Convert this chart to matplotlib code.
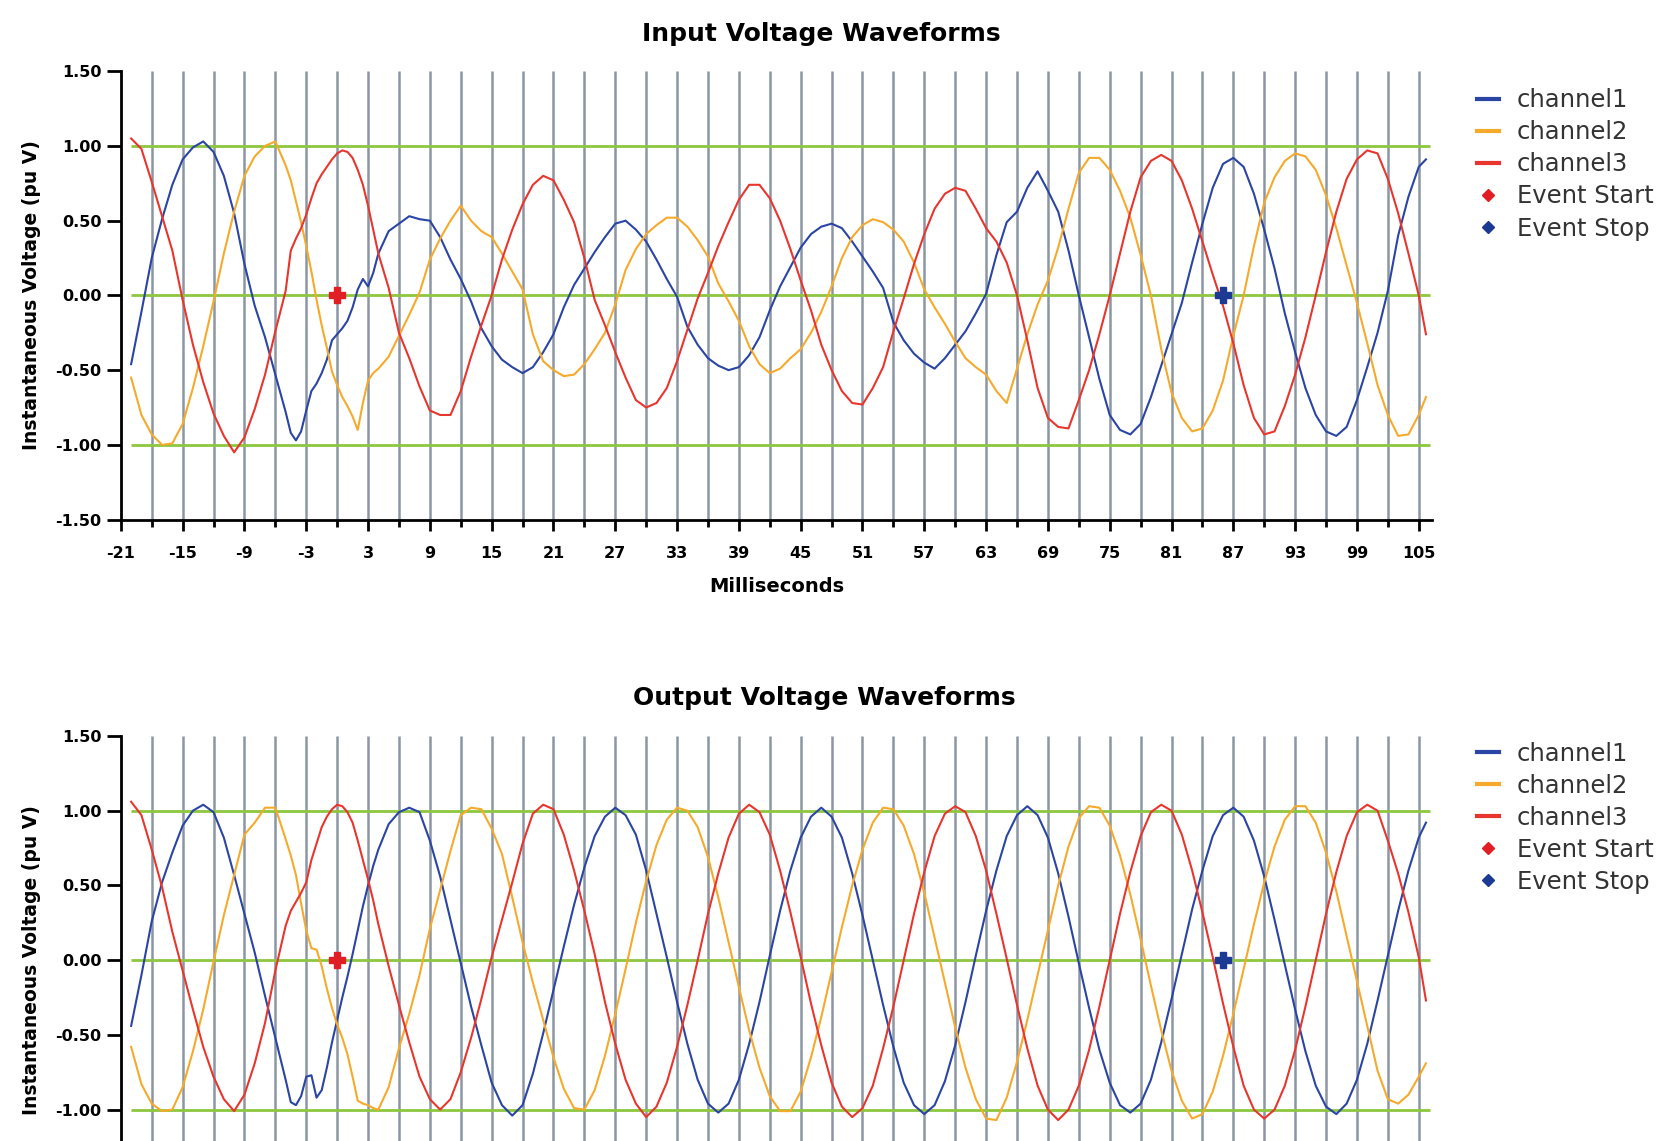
import matplotlib.pyplot as plt
import numpy as np
from matplotlib.lines import Line2D

plt.rcParams['font.family'] = 'DejaVu Sans'
plt.rcParams['axes.unicode_minus'] = False

# sample times in ms (finer steps around the event start)
t = np.concatenate([np.arange(-20, -5), np.arange(-5, 4.5, 0.5), np.arange(5, 106), [105.7]])

# input voltage, pu V
in_ch1 = [
    -0.46, -0.11, 0.25, 0.51, 0.74, 0.91, 0.99, 1.03, 0.96, 0.80, 0.55, 0.21, -0.07, -0.28, -0.53,
    -0.78, -0.92, -0.97, -0.91, -0.77, -0.64, -0.59, -0.52, -0.43, -0.30, -0.26, -0.22, -0.17, -0.08, 0.04, 0.11, 0.06, 0.15, 0.28,
    0.43, 0.48, 0.53, 0.51, 0.50, 0.39, 0.24, 0.11, -0.04, -0.22,
    -0.34, -0.43, -0.48, -0.52, -0.48, -0.38, -0.26, -0.08, 0.07, 0.18,
    0.29, 0.39, 0.48, 0.50, 0.44, 0.36, 0.24, 0.11, -0.01, -0.21,
    -0.33, -0.42, -0.47, -0.50, -0.48, -0.40, -0.28, -0.10, 0.06, 0.19,
    0.32, 0.41, 0.46, 0.48, 0.45, 0.36, 0.26, 0.16, 0.05, -0.18,
    -0.30, -0.39, -0.45, -0.49, -0.42, -0.33, -0.24, -0.12, 0.01, 0.27,
    0.49, 0.56, 0.72, 0.83, 0.70, 0.56, 0.30, 0.00, -0.28, -0.56,
    -0.80, -0.90, -0.93, -0.86, -0.68, -0.47, -0.26, -0.05, 0.22, 0.48,
    0.72, 0.88, 0.92, 0.86, 0.68, 0.44, 0.18, -0.12, -0.38, -0.62,
    -0.80, -0.91, -0.94, -0.88, -0.70, -0.48, -0.25, 0.03, 0.40, 0.66,
    0.86, 0.91,
]
in_ch2 = [
    -0.55, -0.80, -0.93, -1.00, -0.99, -0.86, -0.62, -0.34, -0.04, 0.28, 0.56, 0.80, 0.93, 1.00, 1.03,
    0.87, 0.77, 0.63, 0.49, 0.33, 0.16, -0.03, -0.20, -0.35, -0.51, -0.60, -0.68, -0.74, -0.81, -0.90, -0.72, -0.57, -0.52, -0.49,
    -0.41, -0.27, -0.13, 0.02, 0.24, 0.38, 0.50, 0.60, 0.50, 0.43,
    0.39, 0.28, 0.16, 0.04, -0.26, -0.44, -0.50, -0.54, -0.53, -0.46,
    -0.36, -0.25, -0.06, 0.17, 0.31, 0.41, 0.47, 0.52, 0.52, 0.46,
    0.37, 0.26, 0.08, -0.04, -0.17, -0.34, -0.46, -0.52, -0.49, -0.42,
    -0.36, -0.25, -0.11, 0.06, 0.25, 0.39, 0.47, 0.51, 0.49, 0.44,
    0.36, 0.22, 0.04, -0.08, -0.19, -0.31, -0.42, -0.48, -0.53, -0.64,
    -0.72, -0.49, -0.26, -0.06, 0.10, 0.32, 0.58, 0.82, 0.92, 0.92,
    0.84, 0.70, 0.52, 0.27, 0.00, -0.36, -0.65, -0.82, -0.91, -0.89,
    -0.77, -0.57, -0.27, 0.00, 0.33, 0.62, 0.79, 0.90, 0.95, 0.93,
    0.84, 0.67, 0.45, 0.20, -0.05, -0.32, -0.60, -0.80, -0.94, -0.93,
    -0.80, -0.68,
]
in_ch3 = [
    1.05, 0.98, 0.76, 0.53, 0.30, -0.03, -0.33, -0.58, -0.79, -0.94, -1.05, -0.95, -0.76, -0.53, -0.24,
    0.03, 0.30, 0.38, 0.45, 0.54, 0.65, 0.75, 0.81, 0.86, 0.91, 0.95, 0.97, 0.96, 0.92, 0.84, 0.74, 0.60, 0.44, 0.28,
    0.05, -0.25, -0.42, -0.61, -0.77, -0.80, -0.80, -0.64, -0.41, -0.20,
    0.00, 0.24, 0.44, 0.61, 0.74, 0.80, 0.77, 0.64, 0.49, 0.25,
    -0.03, -0.20, -0.38, -0.55, -0.70, -0.75, -0.72, -0.62, -0.44, -0.23,
    -0.02, 0.15, 0.33, 0.49, 0.64, 0.74, 0.74, 0.65, 0.50, 0.31,
    0.10, -0.10, -0.33, -0.50, -0.64, -0.72, -0.73, -0.62, -0.48, -0.24,
    -0.02, 0.21, 0.41, 0.58, 0.68, 0.72, 0.70, 0.58, 0.45, 0.36,
    0.22, 0.00, -0.30, -0.62, -0.82, -0.88, -0.89, -0.70, -0.50, -0.26,
    0.00, 0.28, 0.56, 0.79, 0.90, 0.94, 0.90, 0.77, 0.58, 0.36,
    0.14, -0.07, -0.32, -0.60, -0.82, -0.93, -0.91, -0.74, -0.53, -0.28,
    0.00, 0.29, 0.56, 0.78, 0.91, 0.97, 0.95, 0.78, 0.55, 0.28,
    0.00, -0.26,
]

# output voltage, pu V
out_ch1 = [
    -0.44, -0.10, 0.26, 0.52, 0.72, 0.90, 1.00, 1.04, 0.99, 0.82, 0.57, 0.31, 0.05, -0.24, -0.52,
    -0.80, -0.95, -0.97, -0.91, -0.78, -0.77, -0.92, -0.87, -0.72, -0.55, -0.40, -0.25, -0.11, 0.04, 0.20, 0.36, 0.50, 0.63, 0.74,
    0.91, 0.99, 1.02, 0.99, 0.80, 0.56, 0.27, -0.02, -0.31, -0.57,
    -0.82, -0.97, -1.04, -0.97, -0.76, -0.49, -0.20, 0.09, 0.37, 0.62,
    0.83, 0.96, 1.02, 0.97, 0.84, 0.60, 0.31, 0.02, -0.28, -0.56,
    -0.80, -0.96, -1.02, -0.96, -0.80, -0.56, -0.28, 0.03, 0.33, 0.60,
    0.82, 0.96, 1.02, 0.96, 0.82, 0.58, 0.30, 0.00, -0.30, -0.58,
    -0.82, -0.97, -1.03, -0.97, -0.81, -0.57, -0.28, 0.03, 0.33, 0.60,
    0.83, 0.97, 1.03, 0.97, 0.82, 0.58, 0.29, -0.02, -0.32, -0.60,
    -0.82, -0.97, -1.02, -0.96, -0.80, -0.55, -0.26, 0.04, 0.34, 0.60,
    0.83, 0.97, 1.02, 0.96, 0.80, 0.56, 0.27, -0.03, -0.33, -0.61,
    -0.84, -0.98, -1.03, -0.96, -0.80, -0.56, -0.27, 0.03, 0.33, 0.60,
    0.82, 0.92,
]
out_ch2 = [
    -0.58, -0.83, -0.96, -1.01, -1.00, -0.85, -0.61, -0.33, -0.01, 0.30, 0.57, 0.84, 0.92, 1.02, 1.02,
    0.81, 0.70, 0.57, 0.38, 0.20, 0.08, 0.07, -0.04, -0.19, -0.32, -0.43, -0.52, -0.63, -0.78, -0.94, -0.96, -0.97, -0.99, -1.00,
    -0.85, -0.59, -0.36, -0.10, 0.21, 0.47, 0.73, 0.97, 1.02, 1.01,
    0.88, 0.71, 0.42, 0.12, -0.15, -0.40, -0.65, -0.86, -0.99, -1.00,
    -0.87, -0.64, -0.36, -0.06, 0.25, 0.53, 0.77, 0.94, 1.02, 1.00,
    0.89, 0.69, 0.42, 0.12, -0.18, -0.47, -0.72, -0.91, -1.01, -1.01,
    -0.88, -0.65, -0.38, -0.08, 0.22, 0.50, 0.74, 0.92, 1.02, 1.01,
    0.90, 0.71, 0.45, 0.15, -0.15, -0.45, -0.72, -0.93, -1.06, -1.07,
    -0.92, -0.68, -0.40, -0.10, 0.20, 0.50, 0.76, 0.95, 1.03, 1.02,
    0.90, 0.70, 0.44, 0.14, -0.17, -0.47, -0.74, -0.94, -1.06, -1.03,
    -0.88, -0.64, -0.36, -0.06, 0.24, 0.52, 0.76, 0.94, 1.03, 1.03,
    0.92, 0.72, 0.46, 0.16, -0.14, -0.44, -0.74, -0.93, -0.96, -0.90,
    -0.78, -0.69,
]
out_ch3 = [
    1.06, 0.97, 0.74, 0.49, 0.19, -0.07, -0.33, -0.58, -0.78, -0.93, -1.01, -0.90, -0.69, -0.42, -0.07,
    0.23, 0.33, 0.39, 0.45, 0.52, 0.67, 0.78, 0.89, 0.96, 1.01, 1.04, 1.03, 0.99, 0.92, 0.80, 0.67, 0.54, 0.40, 0.24,
    -0.04, -0.30, -0.55, -0.78, -0.93, -1.00, -0.93, -0.75, -0.52, -0.26,
    0.02, 0.27, 0.52, 0.78, 0.98, 1.04, 1.01, 0.84, 0.60, 0.33,
    0.04, -0.28, -0.56, -0.80, -0.96, -1.05, -0.98, -0.82, -0.58, -0.30,
    0.00, 0.31, 0.58, 0.82, 0.98, 1.04, 0.99, 0.84, 0.60, 0.32,
    0.02, -0.29, -0.57, -0.82, -0.98, -1.05, -0.99, -0.84, -0.59, -0.31,
    0.00, 0.31, 0.59, 0.83, 0.98, 1.03, 0.99, 0.83, 0.60, 0.31,
    0.01, -0.30, -0.59, -0.84, -1.00, -1.07, -1.00, -0.84, -0.60, -0.31,
    0.00, 0.31, 0.59, 0.83, 0.99, 1.04, 1.00, 0.84, 0.60, 0.32,
    0.02, -0.29, -0.58, -0.84, -1.00, -1.06, -1.00, -0.84, -0.60, -0.31,
    0.00, 0.31, 0.59, 0.83, 0.99, 1.04, 1.00, 0.80, 0.58, 0.32,
    0.02, -0.27,
]

event_start = 0.0
event_stop = 86.0

labels = ["channel1", "channel2", "channel3", "Event Start", "Event Stop"]
colors = ["#2a45a3", "#f5aa2c", "#e8362e"]
start_color = "#e01e24"
stop_color = "#1c3a94"
green = "#8dc63f"
gray = "#8c96a3"

xmax = 106.3
grid_x = np.arange(-18, 106, 3)

fig = plt.figure(figsize=(16.62, 11.41), dpi=100)
ax1 = fig.add_axes([0.0727, 0.5446, 0.789, 0.393])
ax2 = fig.add_axes([0.0727, -0.038, 0.789, 0.393])


def draw_panel(ax, ch1, ch2, ch3, show_x):
    ax.vlines(grid_x, -1.5, 1.5, colors=gray, lw=1.8, zorder=1)
    ax.hlines([-1, 0, 1], t[0], xmax - 0.2, colors=green, lw=2.0, zorder=2)
    for vals, c in zip([ch1, ch2, ch3], colors):
        ax.plot(t, vals, color=c, lw=1.5, zorder=3)
    ax.plot([event_start], [0], marker='P', ms=12, color=start_color, ls='none', zorder=5)
    ax.plot([event_stop], [0], marker='P', ms=12, color=stop_color, ls='none', zorder=5)

    ax.set_xlim(-21, xmax)
    ax.set_ylim(-1.5, 1.5)
    ax.spines['top'].set_visible(False)
    ax.spines['right'].set_visible(False)
    ax.spines['left'].set_linewidth(2)
    ax.spines['bottom'].set_linewidth(2)

    ax.set_xticks(np.arange(-21, 106, 6))
    ax.set_xticks(np.arange(-18, 106, 6), minor=True)
    # the lower chart runs past the bottom edge, so its -1.50 label is not drawn
    yt = np.arange(-1.5, 1.51, 0.5) if show_x else np.arange(-1.0, 1.51, 0.5)
    ax.set_yticks(yt)
    ax.set_yticklabels([f"{v:.2f}" for v in yt])
    ax.tick_params(axis='both', which='major', direction='out', width=2, labelsize=11.5)
    ax.tick_params(axis='y', which='major', length=10, pad=4)
    ax.tick_params(axis='x', which='major', length=8, pad=11, labelbottom=show_x)
    ax.tick_params(axis='x', which='minor', direction='out', length=5, width=2)
    for lab in ax.get_xticklabels() + ax.get_yticklabels():
        lab.set_fontweight('bold')

    ax.set_ylabel("Instantaneous Voltage (pu V)", fontsize=13.5, fontweight='bold')
    ax.yaxis.set_label_coords(-0.061, 0.5)
    if show_x:
        ax.set_xlabel("Milliseconds", fontsize=14, fontweight='bold')
        ax.xaxis.set_label_coords(0.5, -0.127)


draw_panel(ax1, in_ch1, in_ch2, in_ch3, True)
draw_panel(ax2, out_ch1, out_ch2, out_ch3, False)

fig.text(0.494, 0.970, "Input Voltage Waveforms", ha='center', va='center',
         fontsize=18, fontweight='bold')
fig.text(0.496, 0.388, "Output Voltage Waveforms", ha='center', va='center',
         fontsize=18, fontweight='bold')

handles = [Line2D([], [], color=c, lw=3) for c in colors]
handles += [Line2D([], [], marker='D', ms=6, color=start_color, ls='none'),
            Line2D([], [], marker='D', ms=6, color=stop_color, ls='none')]

for top in [0.9225, 0.350]:
    leg = fig.legend(handles, labels, loc='upper left', bbox_to_anchor=(0.8885, top),
                     frameon=False, fontsize=17.5, handlelength=0.9, handletextpad=0.75,
                     labelspacing=0.33, borderpad=0, borderaxespad=0)
    for txt in leg.get_texts():
        txt.set_color('#333333')

fig.savefig('out.png', dpi=100)
